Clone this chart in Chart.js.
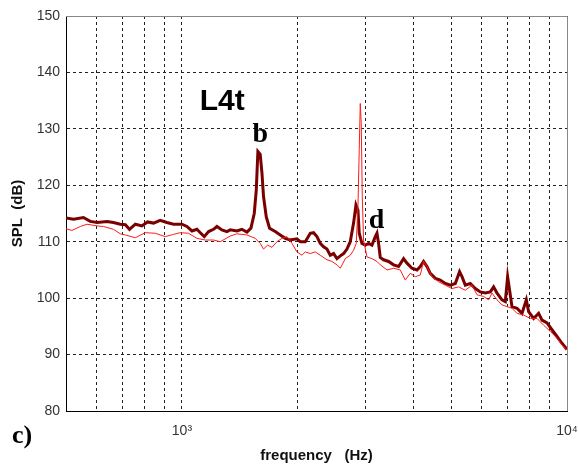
<!DOCTYPE html>
<html>
<head>
<meta charset="utf-8">
<script src="https://cdn.jsdelivr.net/npm/chart.js@4/dist/chart.umd.min.js"></script>
<style>
  html, body { margin: 0; padding: 0; background: #fff; }
  #wrap { width: 578px; height: 465px; }
</style>
</head>
<body>
<div id="wrap"><canvas id="spl" width="578" height="465"></canvas></div>
<script>
// thick dark trace (frequency in Hz, SPL in dB)
const thickFreq = [500, 523, 555, 578, 602, 639, 664, 692, 713, 731, 757, 787, 814, 844, 878, 914, 951,
  1000, 1030, 1062, 1094, 1116, 1143, 1173, 1208, 1233, 1270, 1309, 1335, 1389, 1431, 1475, 1511,
  1541, 1560, 1575, 1597, 1614, 1629, 1656, 1689, 1747, 1800, 1855, 1911, 1989, 2029, 2091, 2154,
  2197, 2242, 2287, 2333, 2380, 2428, 2476, 2527, 2578, 2629, 2683, 2736, 2791, 2831, 2865, 2887,
  2934, 2993, 3053, 3115, 3178, 3210, 3241, 3274, 3339, 3441, 3545, 3653, 3764, 3841, 3957, 4078,
  4159, 4241, 4329, 4415, 4549, 4687, 4830, 4976, 5128, 5260, 5337, 5443, 5608, 5779, 5954, 6135,
  6322, 6448, 6581, 6781, 6915, 7011, 7095, 7197, 7416, 7641, 7841, 7950, 8190, 8439, 8614, 8875,
  9141, 9419, 9705, 10000];
const thickSpl = [114.2, 114.0, 114.3, 113.6, 113.4, 113.6, 113.4, 113.1, 113.0, 112.2, 113.1, 112.8, 113.5, 113.3, 113.8, 113.4, 113.1,
  113.1, 112.7, 111.9, 112.2, 111.6, 110.9, 111.8, 112.2, 112.7, 112.1, 111.8, 112.1, 111.9, 112.2, 111.7, 112.4,
  115.0, 119.2, 126.0, 125.5, 122.1, 118.0, 114.4, 112.4, 111.8, 111.2, 110.6, 110.3, 110.5, 110.0, 110.0, 111.5,
  111.6, 110.9, 109.7, 109.1, 108.7, 107.6, 107.9, 107.0, 107.5, 107.9, 108.7, 110.0, 113.3, 116.5, 115.6, 111.5,
  109.7, 109.4, 109.7, 109.4, 110.9, 111.5, 109.7, 107.2, 106.8, 106.5, 105.9, 105.6, 107.0, 106.2, 105.3, 105.0,
  105.6, 106.5, 105.6, 104.4, 103.5, 103.2, 102.6, 102.3, 102.6, 104.7, 103.8, 102.3, 102.6, 101.7, 101.1, 100.9,
  101.1, 102.0, 100.9, 99.7, 99.4, 103.8, 101.4, 98.5, 98.2, 97.3, 99.7, 97.6, 96.4, 97.3, 96.1, 95.6,
  94.4, 93.2, 92.0, 90.9];

// thin red trace
const thinFreq = [500, 518, 545, 567, 602, 626, 664, 692, 713, 757, 803, 853, 905, 951, 990, 1040, 1094,
  1150, 1208, 1257, 1335, 1389, 1475, 1550, 1597, 1629, 1669, 1713, 1765, 1819, 1874, 1931, 1989,
  2050, 2091, 2154, 2220, 2287, 2380, 2453, 2527, 2578, 2656, 2736, 2791, 2836, 2865, 2887, 2905,
  2922, 2940, 2963, 3024, 3115, 3210, 3274, 3408, 3545, 3690, 3802, 3917, 4037, 4159, 4241, 4329,
  4460, 4640, 4830, 5027, 5229, 5443, 5665, 5838, 6074, 6258, 6386, 6581, 6781, 6987, 7197, 7416,
  7716, 8031, 8360, 8695, 9051, 9419, 9705, 10000];
const thinSpl = [112.3, 112.0, 112.7, 113.1, 112.8, 112.7, 112.2, 111.4, 111.2, 110.7, 111.6, 111.5, 110.9, 111.3, 111.6, 111.5, 110.6,
  110.3, 110.3, 110.0, 111.0, 111.4, 111.2, 110.6, 109.7, 108.7, 109.4, 109.0, 110.0, 110.6, 110.9, 109.7, 108.2,
  107.6, 108.2, 107.9, 108.2, 107.6, 106.8, 106.5, 105.9, 105.3, 107.0, 107.6, 108.5, 109.7, 116.2, 126.3, 134.5,
  131.0, 118.0, 110.3, 107.3, 107.0, 106.5, 105.9, 105.0, 105.3, 105.0, 103.2, 104.4, 103.8, 104.1, 106.5, 105.6,
  103.8, 102.9, 102.3, 101.7, 102.0, 101.4, 102.3, 100.6, 100.3, 99.7, 100.9, 99.7, 98.8, 98.5, 98.2, 97.3,
  97.0, 96.4, 96.4, 95.2, 94.1, 92.9, 91.7, 90.8];

// axis grid positions / labels
const xGridFreqs = [500, 600, 700, 800, 900, 1000, 2000, 3000, 4000, 5000, 6000, 7000, 8000, 9000, 10000];
const xTickLabels = { 1000: '10\u00b3', 10000: '10\u2074' };

// text marks in data coords [label, freq, dB, font]
const notes = [
  ['L4t', 1273, 133.3, 'bold 30px "Liberation Sans", Arial, sans-serif'],
  ['b', 1597, 127.7, 'bold 28px "Liberation Serif", "Times New Roman", serif'],
  ['d', 3200, 112.4, 'bold 28px "Liberation Serif", "Times New Roman", serif'],
];

function pairs(xs, ys) {
  return xs.map((x, i) => ({ x: x, y: ys[i] }));
}

const boxAndNotes = {
  id: 'boxAndNotes',
  afterDraw(chart) {
    const ctx = chart.ctx;
    const a = chart.chartArea;
    ctx.save();
    // top and right frame lines
    ctx.strokeStyle = '#888';
    ctx.lineWidth = 1;
    ctx.beginPath();
    ctx.moveTo(a.left, a.top + 0.5);
    ctx.lineTo(a.right + 0.5, a.top + 0.5);
    ctx.lineTo(a.right + 0.5, a.bottom);
    ctx.stroke();

    ctx.fillStyle = '#000';
    ctx.textAlign = 'center';
    ctx.textBaseline = 'alphabetic';
    const xs = chart.scales.x, ys = chart.scales.y;
    notes.forEach(n => {
      ctx.font = n[3];
      ctx.fillText(n[0], xs.getPixelForValue(n[1]), ys.getPixelForValue(n[2]));
    });

    // panel letter
    ctx.textAlign = 'left';
    ctx.font = 'bold 26px "Liberation Serif", "Times New Roman", serif';
    ctx.fillText('c)', 12, 443);
    ctx.restore();
  }
};

const chart = new Chart(document.getElementById('spl'), {
  type: 'line',
  data: {
    datasets: [
      {
        label: 'thick',
        data: pairs(thickFreq, thickSpl),
        borderColor: '#7a0000',
        borderWidth: 3,
        pointRadius: 0,
        tension: 0,
        order: 2
      },
      {
        label: 'thin',
        data: pairs(thinFreq, thinSpl),
        borderColor: '#ff1a1a',
        borderWidth: 1,
        pointRadius: 0,
        tension: 0,
        order: 1
      }
    ]
  },
  options: {
    responsive: false,
    animation: false,
    devicePixelRatio: 1,
    layout: { padding: { left: 0, right: 11, top: 16, bottom: 0 } },
    plugins: { legend: { display: false }, tooltip: { enabled: false } },
    scales: {
      x: {
        type: 'logarithmic',
        min: 500,
        max: 10000,
        afterBuildTicks(scale) {
          scale.ticks = xGridFreqs.map(v => ({ value: v }));
        },
        afterFit(scale) {
          scale.height = 54;
          scale.paddingLeft = 0;
          scale.paddingRight = 0;
        },
        grid: { color: '#222', lineWidth: 1, drawTicks: false },
        border: { display: true, color: '#000', width: 1, dash: [3, 3] },
        ticks: {
          autoSkip: false,
          maxRotation: 0,
          padding: 12,
          color: '#333',
          font: { family: '"Liberation Sans", Arial, sans-serif', size: 14 },
          callback: (v) => xTickLabels[v] || ''
        },
        title: {
          display: true,
          text: 'frequency   (Hz)',
          color: '#111',
          padding: { top: 0, bottom: 0 },
          font: { family: '"Liberation Sans", Arial, sans-serif', size: 15, weight: 'bold' }
        }
      },
      y: {
        min: 80,
        max: 150,
        afterFit(scale) {
          scale.width = 66;
          scale.paddingTop = 0;
          scale.paddingBottom = 0;
        },
        grid: { color: '#222', lineWidth: 1, drawTicks: false },
        border: { display: true, color: '#000', width: 1, dash: [3, 3] },
        ticks: {
          stepSize: 10,
          padding: 6,
          color: '#333',
          font: { family: '"Liberation Sans", Arial, sans-serif', size: 14 }
        },
        title: {
          display: true,
          text: 'SPL  (dB)',
          color: '#111',
          padding: { top: 9, bottom: 0 },
          font: { family: '"Liberation Sans", Arial, sans-serif', size: 15, weight: 'bold' }
        }
      }
    }
  },
  plugins: [boxAndNotes]
});
</script>
</body>
</html>
